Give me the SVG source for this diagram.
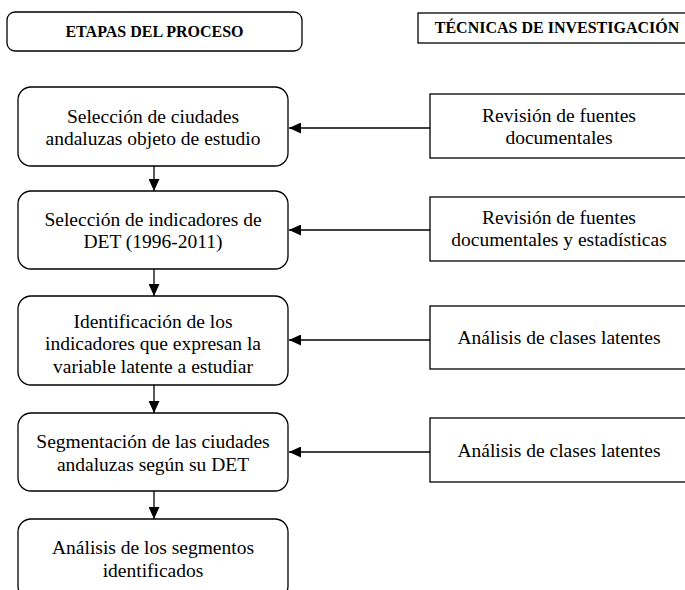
<svg xmlns="http://www.w3.org/2000/svg" width="685" height="590" viewBox="0 0 685 590">
<defs>
<style>
.box{fill:#fff;stroke:#000;stroke-width:1.3}
.t{font-family:'Liberation Serif','Times New Roman','DejaVu Serif',serif;font-size:19.5px;fill:#000;text-anchor:middle}
.h{font-family:'Liberation Serif','Times New Roman','DejaVu Serif',serif;font-size:16px;font-weight:bold;fill:#000;text-anchor:middle}
.c{stroke:#000;stroke-width:1.3;fill:none;marker-end:url(#ah)}
</style>
<marker id="ah" markerWidth="12" markerHeight="11" refX="12" refY="5.5" orient="auto" markerUnits="userSpaceOnUse">
<path d="M0,0 L12,5.5 L0,11 Z" fill="#000"/>
</marker>
</defs>
<rect width="685" height="590" fill="#fff"/>
<g id="hdr-etapas">
<rect class="box" x="7" y="12" width="295" height="39" rx="8"/>
<text class="h" x="154.5" y="37">ETAPAS DEL PROCESO</text>
</g>
<g id="hdr-tecnicas">
<rect class="box" x="418" y="13" width="275" height="30"/>
<text class="h" x="557" y="33">TÉCNICAS DE INVESTIGACIÓN</text>
</g>
<g id="e1">
<rect class="box" x="18" y="87" width="270" height="79" rx="13"/>
<text class="t" x="153" y="122.5">Selección de ciudades</text>
<text class="t" x="153" y="145">andaluzas objeto de estudio</text>
</g>
<g id="e2">
<rect class="box" x="18" y="191" width="270" height="78" rx="13"/>
<text class="t" x="153" y="225.5">Selección de indicadores de</text>
<text class="t" x="153" y="248">DET (1996-2011)</text>
</g>
<g id="e3">
<rect class="box" x="18" y="296" width="270" height="89" rx="13"/>
<text class="t" x="153" y="327.5">Identificación de los</text>
<text class="t" x="153" y="350">indicadores que expresan la</text>
<text class="t" x="153" y="372.5">variable latente a estudiar</text>
</g>
<g id="e4">
<rect class="box" x="18" y="413" width="270" height="78" rx="13"/>
<text class="t" x="153" y="448">Segmentación de las ciudades</text>
<text class="t" x="153" y="470.5">andaluzas según su DET</text>
</g>
<g id="e5">
<rect class="box" x="18" y="519" width="270" height="80" rx="13"/>
<text class="t" x="153" y="554">Análisis de los segmentos</text>
<text class="t" x="153" y="576.5">identificados</text>
</g>
<g id="t1">
<rect class="box" x="430" y="94" width="260" height="64"/>
<text class="t" x="559" y="121.5">Revisión de fuentes</text>
<text class="t" x="559" y="143.5">documentales</text>
</g>
<g id="t2">
<rect class="box" x="430" y="197" width="260" height="64"/>
<text class="t" x="559" y="224">Revisión de fuentes</text>
<text class="t" x="559" y="246">documentales y estadísticas</text>
</g>
<g id="t3">
<rect class="box" x="430" y="306" width="260" height="63"/>
<text class="t" x="559" y="344">Análisis de clases latentes</text>
</g>
<g id="t4">
<rect class="box" x="430" y="418" width="260" height="64"/>
<text class="t" x="559" y="457">Análisis de clases latentes</text>
</g>
<g id="connectors">
<line class="c" x1="154" y1="166" x2="154" y2="191"/>
<line class="c" x1="154" y1="269" x2="154" y2="296"/>
<line class="c" x1="154" y1="385" x2="154" y2="413"/>
<line class="c" x1="154" y1="491" x2="154" y2="519"/>
<line class="c" x1="430" y1="128" x2="289" y2="128"/>
<line class="c" x1="430" y1="230" x2="289" y2="230"/>
<line class="c" x1="430" y1="340" x2="289" y2="340"/>
<line class="c" x1="430" y1="452" x2="289" y2="452"/>
</g>
</svg>
